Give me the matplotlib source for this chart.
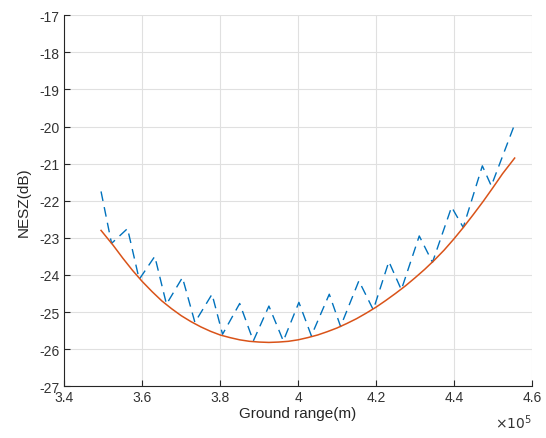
import matplotlib
matplotlib.use("Agg")
import matplotlib.pyplot as plt

# ground range in units of 1e5 m
blue_x = [3.494, 3.521, 3.562, 3.592, 3.632, 3.662, 3.703, 3.735, 3.779, 3.806,
          3.850, 3.885, 3.925, 3.962, 4.002, 4.034, 4.080, 4.109, 4.156, 4.193,
          4.233, 4.265, 4.311, 4.345, 4.394, 4.424, 4.473, 4.496, 4.556]
blue_y = [-21.75, -23.15, -22.75, -24.12, -23.50, -24.79, -24.07, -25.28, -24.52, -25.60,
          -24.77, -25.78, -24.84, -25.78, -24.74, -25.64, -24.52, -25.39, -24.16, -24.94,
          -23.64, -24.40, -22.95, -23.66, -22.17, -22.72, -21.06, -21.60, -19.94]

red_x = [3.494, 3.525, 3.55, 3.575, 3.60, 3.625, 3.65, 3.675, 3.70, 3.725, 3.75,
         3.775, 3.80, 3.825, 3.85, 3.875, 3.90, 3.925, 3.95, 3.975, 4.00,
         4.025, 4.05, 4.075, 4.10, 4.125, 4.15, 4.175, 4.20, 4.225, 4.25,
         4.275, 4.30, 4.325, 4.35, 4.375, 4.40, 4.425, 4.45, 4.475, 4.50,
         4.525, 4.556]
red_y = [-22.80, -23.20, -23.55, -23.88, -24.18, -24.45, -24.70, -24.91, -25.10, -25.26, -25.40,
         -25.52, -25.62, -25.69, -25.75, -25.79, -25.81, -25.82, -25.81, -25.79, -25.75,
         -25.69, -25.62, -25.53, -25.43, -25.31, -25.18, -25.03, -24.87, -24.69, -24.50,
         -24.30, -24.08, -23.85, -23.60, -23.33, -23.03, -22.71, -22.37, -22.02, -21.65,
         -21.27, -20.85]

xticks = [3.4, 3.6, 3.8, 4.0, 4.2, 4.4, 4.6]
xticklabels = ["3.4", "3.6", "3.8", "4", "4.2", "4.4", "4.6"]
yticks = list(range(-27, -16))

plt.rcParams['font.family'] = ['Liberation Sans', 'DejaVu Sans']
plt.rcParams['axes.unicode_minus'] = False
fig = plt.figure(figsize=(5.46, 4.39), dpi=100)
ax = fig.add_axes([0.118, 0.118, 0.856, 0.845])

ax.plot(blue_x, blue_y, '--', color='#0072BD', lw=1.0, dashes=(7, 4.5))
ax.plot(red_x, red_y, '-', color='#D95319', lw=1.1)

ax.set_xlim(3.4, 4.6)
ax.set_ylim(-27, -17)
ax.set_xticks(xticks)
ax.set_xticklabels(xticklabels)
ax.set_yticks(yticks)
ax.grid(True, color='#e0e0e0', lw=0.8)
ax.set_axisbelow(True)

for s in ['top', 'right']:
    ax.spines[s].set_visible(False)
for s in ['left', 'bottom']:
    ax.spines[s].set_color('#262626')
    ax.spines[s].set_linewidth(0.8)
ax.tick_params(direction='in', length=4, width=0.8, colors='#262626',
               labelsize=10, labelcolor='#333333')
ax.tick_params(axis='x', pad=3)

ax.set_xlabel("Ground range(m)", fontsize=11, color='#262626', labelpad=1)
ax.set_ylabel("NESZ(dB)", fontsize=11, color='#262626', labelpad=6)
ax.text(1.0, -0.07, r"$\times10^5$", transform=ax.transAxes, ha='right', va='top',
        fontsize=10, color='#333333')

fig.savefig("out.png", dpi=100)
